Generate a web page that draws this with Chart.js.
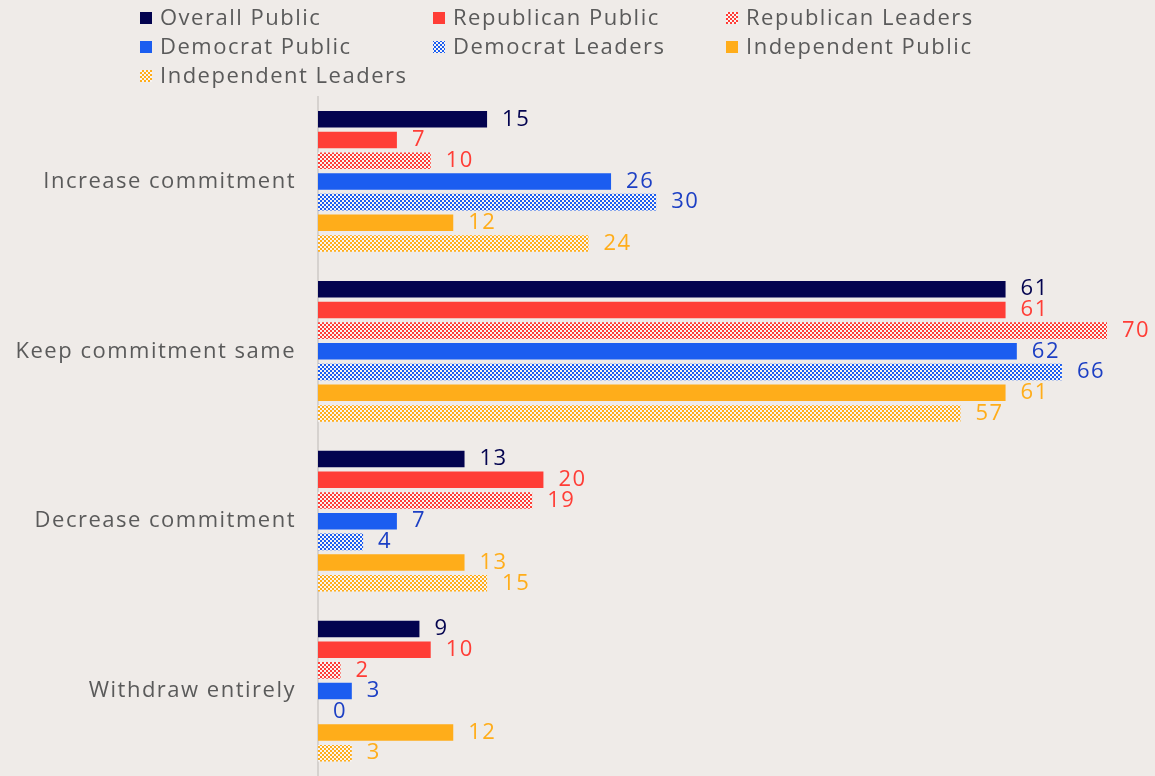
<!DOCTYPE html>
<html>
<head>
<meta charset="utf-8">
<script src="https://cdn.jsdelivr.net/npm/chart.js@4/dist/chart.umd.min.js"></script>
<style>
  html, body { margin: 0; padding: 0; background: #efebe8; overflow: hidden; }
  #wrap { width: 1155px; height: 776px; position: relative; }
  canvas { display: block; }
</style>
</head>
<body>
<div id="wrap"><canvas id="c" width="1155" height="776"></canvas></div>
<script>
const categories = ['Increase commitment', 'Keep commitment same', 'Decrease commitment', 'Withdraw entirely'];

const overallPublic      = [15, 61, 13, 9];
const republicanPublic   = [7, 61, 20, 10];
const republicanLeaders  = [10, 70, 19, 2];
const democratPublic     = [26, 62, 7, 3];
const democratLeaders    = [30, 66, 4, 0];
const independentPublic  = [12, 61, 13, 12];
const independentLeaders = [24, 57, 15, 3];

const NAVY = '#03034f', RED = '#ff3d36', BLUE = '#1b5df0', ORANGE = '#ffad1a';
const FONT = "'Open Sans', sans-serif";
const GREY_TEXT = '#5a5a5a';
const SPACING = '1.5px';

// small checkerboard fill for the "Leaders" series
function checker(color) {
  const p = document.createElement('canvas');
  p.width = 4; p.height = 4;
  const g = p.getContext('2d');
  g.fillStyle = '#f8f5f3';
  g.fillRect(0, 0, 4, 4);
  g.fillStyle = color;
  g.fillRect(0, 0, 2, 2);
  g.fillRect(2, 2, 2, 2);
  return g.createPattern(p, 'repeat');
}

const datasets = [
  { label: 'Overall Public',      data: overallPublic,      backgroundColor: NAVY,            labelColor: NAVY },
  { label: 'Republican Public',   data: republicanPublic,   backgroundColor: RED,             labelColor: RED },
  { label: 'Republican Leaders',  data: republicanLeaders,  backgroundColor: checker(RED),    labelColor: RED },
  { label: 'Democrat Public',     data: democratPublic,     backgroundColor: BLUE,            labelColor: '#1c3fc4' },
  { label: 'Democrat Leaders',    data: democratLeaders,    backgroundColor: checker(BLUE),   labelColor: '#1c3fc4' },
  { label: 'Independent Public',  data: independentPublic,  backgroundColor: ORANGE,          labelColor: ORANGE },
  { label: 'Independent Leaders', data: independentLeaders, backgroundColor: checker(ORANGE), labelColor: ORANGE }
];

// slightly wider letter spacing for all canvas text
const spacing = {
  id: 'spacing',
  beforeDraw(chart) { chart.ctx.letterSpacing = SPACING; }
};

// value labels to the right of each bar
const valueLabels = {
  id: 'valueLabels',
  afterDatasetsDraw(chart) {
    const ctx = chart.ctx;
    ctx.save();
    ctx.letterSpacing = SPACING;
    ctx.font = '22px ' + FONT;
    ctx.textAlign = 'left';
    ctx.textBaseline = 'middle';
    chart.data.datasets.forEach((ds, i) => {
      chart.getDatasetMeta(i).data.forEach((bar, j) => {
        ctx.fillStyle = ds.labelColor;
        ctx.fillText(String(ds.data[j]), bar.x + 15, bar.y);
      });
    });
    ctx.restore();
  }
};

// three-column legend across the top
const gridLegend = {
  id: 'gridLegend',
  afterDraw(chart) {
    const ctx = chart.ctx;
    const cols = [140, 433, 726];
    const rows = [18, 47, 76];
    ctx.save();
    ctx.letterSpacing = SPACING;
    ctx.font = '22px ' + FONT;
    ctx.textBaseline = 'middle';
    ctx.textAlign = 'left';
    chart.data.datasets.forEach((ds, i) => {
      const x = cols[i % 3], y = rows[Math.floor(i / 3)];
      ctx.fillStyle = ds.backgroundColor;
      ctx.fillRect(x, y - 6, 12, 12);
      ctx.fillStyle = GREY_TEXT;
      ctx.fillText(ds.label, x + 20, y + 1);
    });
    ctx.restore();
  }
};

new Chart(document.getElementById('c'), {
  type: 'bar',
  data: { labels: categories, datasets },
  options: {
    indexAxis: 'y',
    responsive: false,
    animation: false,
    layout: { padding: { top: 96.5, right: 48, bottom: -6, left: 0 } },
    datasets: { bar: { categoryPercentage: 0.853, barPercentage: 0.8 } },
    plugins: { legend: { display: false }, tooltip: { enabled: false } },
    scales: {
      x: { display: false, min: 0, max: 70 },
      y: {
        grid: { display: false },
        border: { display: true, color: '#d6d2cf', width: 2 },
        ticks: { color: GREY_TEXT, font: { family: FONT, size: 22 }, padding: 14 },
        afterFit(scale) {
          scale.width = 318;
          scale.paddingTop = 0;
          scale.paddingBottom = 0;
        }
      }
    }
  },
  plugins: [spacing, valueLabels, gridLegend]
});
</script>
</body>
</html>
